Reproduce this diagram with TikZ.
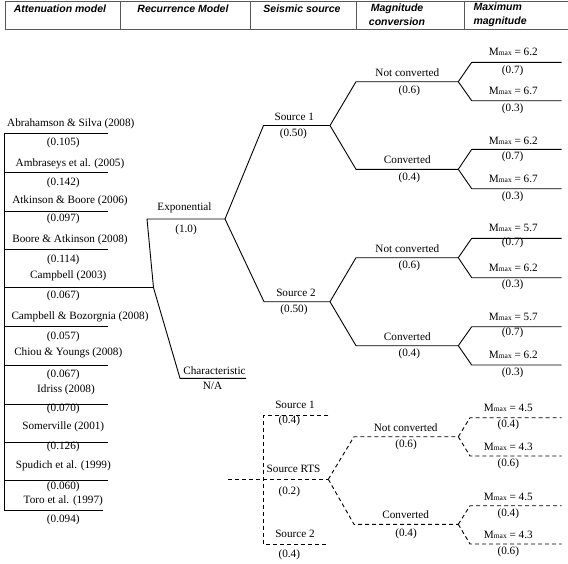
\documentclass[tikz,border=0pt]{standalone}
\usepackage{fontspec}
\setmainfont{Liberation Serif}
\newfontfamily\hdrfont{Liberation Sans}
\newcommand{\Mmx}{M{\fontsize{7.5}{8}\selectfont max}}
\begin{document}
\begin{tikzpicture}[x=1pt,y=-1pt,
  lbl/.style={inner sep=0pt, font=\fontsize{11.2}{13}\selectfont},
  hdr/.style={inner sep=0pt, font=\hdrfont\bfseries\itshape\fontsize{10.5}{14.4}\selectfont},
  br/.style={line width=0.9pt, draw=black},
  dbr/.style={br, dash pattern=on 4pt off 3pt},
  grid/.style={line width=0.8pt, draw=black!65}]
\useasboundingbox (0,0) rectangle (568,563);
\fill[white] (0,0) rectangle (568,563);

% ---------- header ----------
\draw[grid] (568,1) -- (5,1) -- (5,29.3) -- (568,29.3);
\foreach \x in {120.7,250.7,356.8,464.3} \draw[grid] (\x,1) -- (\x,29.3);
\node[hdr] (hA) at (60,8.3) {Attenuation model};
\node[hdr] (hR) at (183,8.3) {Recurrence Model};
\node[hdr] (hS) at (302,8.3) {Seismic source};
\node[hdr, align=center] (hM) at (397,14.6) {Magnitude\\conversion};
\node[hdr, align=left, anchor=west] (hX) at (473.3,14.6) {Maximum\\magnitude};

% ---------- attenuation models ----------
\coordinate (atop) at (4.3,133.7);
\coordinate (abot) at (4.3,511);
\draw[br] (atop) -- (abot);
\foreach \i/\y in {1/133.7,2/172,3/211,4/249.7,6/326.7,7/365.3,8/404,9/442.7,10/480.3}{
  \coordinate (a\i) at (4.3,\y);
  \coordinate (b\i) at (107.7,\y);
  \draw[br] (a\i) -- (b\i);
}
\coordinate (a11) at (4.3,510);
\coordinate (b11) at (103,510);
\draw[br] (a11) -- (b11);
\coordinate (a5) at (4.3,287.7);
\coordinate (J0) at (153.5,287.7);
\draw[br] (a5) -- (J0);

\node[lbl] (n1) at (70.8,124) {Abrahamson \& Silva (2008)};
\node[lbl] (w1) at (63.3,143.3) {(0.105)};
\node[lbl] (n2) at (70,163.5) {Ambraseys et al. (2005)};
\node[lbl] (w2) at (63.3,182.7) {(0.142)};
\node[lbl] (n3) at (70,200.5) {Atkinson \& Boore (2006)};
\node[lbl] (w3) at (63.3,219) {(0.097)};
\node[lbl] (n4) at (70,240) {Boore \& Atkinson (2008)};
\node[lbl] (w4) at (63.3,259.5) {(0.114)};
\node[lbl] (n5) at (68.3,275.5) {Campbell (2003)};
\node[lbl] (w5) at (63.3,295.5) {(0.067)};
\node[lbl] (n6) at (80,317.3) {Campbell \& Bozorgnia (2008)};
\node[lbl] (w6) at (63.3,336.7) {(0.057)};
\node[lbl] (n7) at (68.3,353.3) {Chiou \& Youngs (2008)};
\node[lbl] (w7) at (63.3,375) {(0.067)};
\node[lbl] (n8) at (66,390) {Idriss (2008)};
\node[lbl] (w8) at (63.3,409) {(0.070)};
\node[lbl] (n9) at (63.3,427.3) {Somerville (2001)};
\node[lbl] (w9) at (63.3,446.7) {(0.126)};
\node[lbl] (n10) at (63.3,466) {Spudich et al. (1999)};
\node[lbl] (w10) at (63.3,486.7) {(0.060)};
\node[lbl] (n11) at (63.3,500.7) {Toro et al. (1997)};
\node[lbl] (w11) at (63.3,520) {(0.094)};

% ---------- recurrence model ----------
\coordinate (E0) at (147,219);
\coordinate (E1) at (225,219);
\coordinate (C0) at (180,378.3);
\coordinate (C1) at (246,378.3);
\draw[br] (J0) -- (E0) -- (E1);
\draw[br] (J0) -- (C0) -- (C1);
\node[lbl] (tE) at (184.5,208) {Exponential};
\node[lbl] (wE) at (186,230) {(1.0)};
\node[lbl] (tC) at (214.5,370.7) {Characteristic};
\node[lbl] (wC) at (212.5,386) {N/A};

% ---------- seismic sources (solid) ----------
\coordinate (S1a) at (263.5,125.5);
\coordinate (S1b) at (330,125.5);
\coordinate (S2a) at (264,301.7);
\coordinate (S2b) at (330,301.7);
\draw[br] (E1) -- (S1a) -- (S1b);
\draw[br] (E1) -- (S2a) -- (S2b);
\node[lbl] (tS1) at (294.3,117.3) {Source 1};
\node[lbl] (wS1) at (293.3,133.8) {(0.50)};
\node[lbl] (tS2) at (296,292.7) {Source 2};
\node[lbl] (wS2) at (294,310) {(0.50)};

% source 1 subtree
\coordinate (P1a) at (356,81.7);   \coordinate (P1b) at (458.3,81.7);
\coordinate (Q1a) at (356,169.3);  \coordinate (Q1b) at (458.3,169.3);
\draw[br] (S1b) -- (P1a) -- (P1b);
\draw[br] (S1b) -- (Q1a) -- (Q1b);
\node[lbl] (tP1) at (407.3,72.3) {Not converted};
\node[lbl] (wP1) at (409.3,90.7) {(0.6)};
\node[lbl] (tQ1) at (407.3,160) {Converted};
\node[lbl] (wQ1) at (409.3,177.7) {(0.4)};
\coordinate (t1a) at (471.7,62.3);  \coordinate (t1b) at (561.7,62.3);
\coordinate (t2a) at (471.7,100.7); \coordinate (t2b) at (561.7,100.7);
\coordinate (t3a) at (471.7,149.3); \coordinate (t3b) at (561.7,149.3);
\coordinate (t4a) at (471.7,188.7); \coordinate (t4b) at (561.7,188.7);
\draw[br] (P1b) -- (t1a) -- (t1b);
\draw[br] (P1b) -- (t2a) -- (t2b);
\draw[br] (Q1b) -- (t3a) -- (t3b);
\draw[br] (Q1b) -- (t4a) -- (t4b);
\node[lbl] (m1) at (513.3,51.7) {\Mmx{} = 6.2};
\node[lbl] (v1) at (512.7,70.7) {(0.7)};
\node[lbl] (m2) at (513.3,90.7) {\Mmx{} = 6.7};
\node[lbl] (v2) at (512.7,109) {(0.3)};
\node[lbl] (m3) at (513.3,140.7) {\Mmx{} = 6.2};
\node[lbl] (v3) at (512.7,157.3) {(0.7)};
\node[lbl] (m4) at (513.3,179.3) {\Mmx{} = 6.7};
\node[lbl] (v4) at (512.7,196.7) {(0.3)};

% source 2 subtree
\coordinate (P2a) at (356,257.7);  \coordinate (P2b) at (458.3,257.7);
\coordinate (Q2a) at (356,345.7);  \coordinate (Q2b) at (458.3,345.7);
\draw[br] (S2b) -- (P2a) -- (P2b);
\draw[br] (S2b) -- (Q2a) -- (Q2b);
\node[lbl] (tP2) at (407.3,248.7) {Not converted};
\node[lbl] (wP2) at (409.3,266) {(0.6)};
\node[lbl] (tQ2) at (407.3,336.7) {Converted};
\node[lbl] (wQ2) at (409.3,354) {(0.4)};
\coordinate (t5a) at (471.7,238.3); \coordinate (t5b) at (561.7,238.3);
\coordinate (t6a) at (471.7,277.7); \coordinate (t6b) at (561.7,277.7);
\coordinate (t7a) at (471.7,326.7); \coordinate (t7b) at (561.7,326.7);
\coordinate (t8a) at (471.7,365);   \coordinate (t8b) at (561.7,365);
\draw[br] (P2b) -- (t5a) -- (t5b);
\draw[br] (P2b) -- (t6a) -- (t6b);
\draw[br] (Q2b) -- (t7a) -- (t7b);
\draw[br] (Q2b) -- (t8a) -- (t8b);
\node[lbl] (m5) at (513.3,228.3) {\Mmx{} = 5.7};
\node[lbl] (v5) at (512.7,243.3) {(0.7)};
\node[lbl] (m6) at (513.3,267.7) {\Mmx{} = 6.2};
\node[lbl] (v6) at (512.7,285) {(0.3)};
\node[lbl] (m7) at (513.3,316.7) {\Mmx{} = 5.7};
\node[lbl] (v7) at (512.7,333.3) {(0.7)};
\node[lbl] (m8) at (513.3,355) {\Mmx{} = 6.2};
\node[lbl] (v8) at (512.7,372.7) {(0.3)};

% ---------- dashed (characteristic) part ----------
\coordinate (D0) at (228.3,479.3);
\coordinate (Dv) at (263.3,479.3);
\coordinate (DR) at (328.3,479.3);
\coordinate (Dtop) at (263.3,415.7);
\coordinate (Dtopb) at (328.3,415.7);
\coordinate (Dbot) at (263.3,544);
\coordinate (Dbotb) at (328.3,544);
\draw[dbr] (D0) -- (DR);
\draw[dbr] (Dtopb) -- (Dtop) -- (Dbot) -- (Dbotb);
\node[lbl] (dS1) at (295,405) {Source 1};
\node[lbl] (dw1) at (289.3,420.7) {(0.4)};
\node[lbl, anchor=west] (dSR) at (266.5,469.3) {Source RTS};
\node[lbl] (dwR) at (289.3,491.7) {(0.2)};
\node[lbl] (dS2) at (295,534.3) {Source 2};
\node[lbl] (dw2) at (289.3,555) {(0.4)};

\coordinate (P3a) at (354,436.7);  \coordinate (P3b) at (458.3,436.7);
\coordinate (Q3a) at (354,524.3);  \coordinate (Q3b) at (458.3,524.3);
\draw[dbr] (DR) -- (P3a) -- (P3b);
\draw[dbr] (DR) -- (Q3a) -- (Q3b);
\node[lbl] (tP3) at (405.7,427.7) {Not converted};
\node[lbl] (wP3) at (406,444.3) {(0.6)};
\node[lbl] (tQ3) at (405.7,515) {Converted};
\node[lbl] (wQ3) at (406,533.3) {(0.4)};
\coordinate (t9a) at (470,417.7);   \coordinate (t9b) at (561.7,417.7);
\coordinate (t10a) at (470,456);    \coordinate (t10b) at (561.7,456);
\coordinate (t11a) at (470,505.7);  \coordinate (t11b) at (561.7,505.7);
\coordinate (t12a) at (470,544);    \coordinate (t12b) at (561.7,544);
\draw[dbr] (P3b) -- (t9a) -- (t9b);
\draw[dbr] (P3b) -- (t10a) -- (t10b);
\draw[dbr] (Q3b) -- (t11a) -- (t11b);
\draw[dbr] (Q3b) -- (t12a) -- (t12b);
\node[lbl] (m9) at (508.3,408.3) {\Mmx{} = 4.5};
\node[lbl] (v9) at (508.3,424.3) {(0.4)};
\node[lbl] (m10) at (508.3,446.7) {\Mmx{} = 4.3};
\node[lbl] (v10) at (508.3,463.3) {(0.6)};
\node[lbl] (m11) at (508.3,496.7) {\Mmx{} = 4.5};
\node[lbl] (v11) at (508.3,513.3) {(0.4)};
\node[lbl] (m12) at (508.3,535) {\Mmx{} = 4.3};
\node[lbl] (v12) at (508.3,551.7) {(0.6)};
\end{tikzpicture}
\end{document}
